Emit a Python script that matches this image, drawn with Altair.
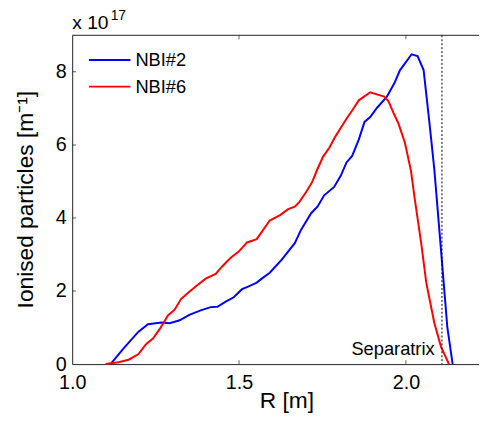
import altair as alt
import pandas as pd

# ---- data ----
series_names = ["NBI#2", "NBI#6"]
series_colors = ["#0000ff", "#ff0000"]

nbi2_R = [1.115, 1.154, 1.198, 1.227, 1.268, 1.292, 1.322, 1.351, 1.385, 1.415,
          1.435, 1.460, 1.484, 1.509, 1.529, 1.553, 1.568, 1.592, 1.628, 1.667,
          1.686, 1.716, 1.735, 1.755, 1.785, 1.805, 1.822, 1.839, 1.859, 1.876,
          1.893, 1.913, 1.943, 1.966, 1.982, 2.017, 2.035, 2.053, 2.071, 2.085,
          2.105, 2.124, 2.140]
nbi2_v = [0.00, 0.43, 0.88, 1.09, 1.14, 1.12, 1.20, 1.35, 1.47, 1.56,
          1.57, 1.71, 1.83, 2.05, 2.13, 2.23, 2.34, 2.50, 2.86, 3.31,
          3.68, 4.13, 4.31, 4.62, 4.85, 5.16, 5.52, 5.70, 6.15, 6.63,
          6.76, 7.01, 7.32, 7.70, 8.04, 8.48, 8.43, 8.05, 6.56, 5.34,
          3.14, 1.02, 0.00]

nbi6_R = [1.100, 1.139, 1.169, 1.198, 1.222, 1.242, 1.263, 1.287, 1.307, 1.326,
          1.351, 1.371, 1.400, 1.430, 1.450, 1.475, 1.499, 1.524, 1.553, 1.592,
          1.623, 1.647, 1.667, 1.681, 1.701, 1.719, 1.735, 1.752, 1.771, 1.788,
          1.820, 1.839, 1.859, 1.893, 1.935, 1.948, 1.963, 1.977, 1.997, 2.015,
          2.027, 2.046, 2.061, 2.085, 2.105, 2.129]
nbi6_v = [0.00, 0.05, 0.12, 0.27, 0.55, 0.70, 0.97, 1.33, 1.49, 1.78,
          1.98, 2.13, 2.34, 2.47, 2.68, 2.91, 3.08, 3.33, 3.42, 3.93,
          4.08, 4.24, 4.31, 4.44, 4.71, 4.98, 5.34, 5.68, 5.93, 6.22,
          6.69, 6.94, 7.22, 7.44, 7.32, 7.19, 6.87, 6.60, 6.06, 5.30,
          4.49, 3.30, 2.23, 1.13, 0.48, 0.00]

x_ticks = [1.0, 1.5, 2.0]
y_ticks = [0, 2, 4, 6, 8]
x_domain = [1.0, 2.219]
y_domain = [0, 9]
separatrix_R = 2.108
separatrix_label = "Separatrix"
scale_text = "x 10"
scale_exp = "17"

FONT = "Liberation Sans"

df = pd.concat([
    pd.DataFrame({"R": nbi2_R, "v": nbi2_v, "series": series_names[0]}),
    pd.DataFrame({"R": nbi6_R, "v": nbi6_v, "series": series_names[1]}),
])

xs = alt.Scale(domain=x_domain, nice=False, zero=False)
ys = alt.Scale(domain=y_domain, nice=False)

lines = alt.Chart(df).mark_line(strokeWidth=2).encode(
    x=alt.X("R:Q", scale=xs, axis=alt.Axis(
        values=x_ticks, format=".1f", title="R [m]", ticks=False, tickSize=0,
        labelPadding=9, labelFlush=False, titleX=217, titleY=44,
        titleBaseline="alphabetic", titleAnchor="start", titleAlign="center")),
    y=alt.Y("v:Q", scale=ys, axis=alt.Axis(
        values=y_ticks, format="d", title="Ionised particles [m⁻¹]", ticks=False,
        tickSize=0, labelPadding=6, labelFlush=False, titleX=-40, titleY=166,
        titleBaseline="alphabetic", titleAnchor="start", titleAlign="center",
        titleAngle=-90)),
    color=alt.Color("series:N", sort=series_names,
                    scale=alt.Scale(domain=series_names, range=series_colors),
                    legend=alt.Legend(orient="none", legendX=16, legendY=15, title=None,
                                      symbolType="stroke", symbolSize=1764,
                                      symbolStrokeWidth=2, labelFontSize=18.5,
                                      labelFont=FONT, labelColor="black",
                                      clipHeight=20, rowPadding=7, padding=0,
                                      labelOffset=4)),
)

# inward tick marks
xt = pd.DataFrame({"t": x_ticks[1:]})
yt = pd.DataFrame({"t": y_ticks[1:]})
tick_style = dict(color="#222", thickness=1, size=8, clip=True)
bottom_ticks = alt.Chart(xt).mark_tick(orient="vertical", **tick_style).encode(
    x=alt.X("t:Q", scale=xs), y=alt.datum(y_domain[0], scale=ys))
top_ticks = alt.Chart(xt).mark_tick(orient="vertical", **tick_style).encode(
    x=alt.X("t:Q", scale=xs), y=alt.datum(y_domain[1], scale=ys))
left_ticks = alt.Chart(yt).mark_tick(orient="horizontal", **tick_style).encode(
    y=alt.Y("t:Q", scale=ys), x=alt.datum(x_domain[0], scale=xs))

top_border = alt.Chart().mark_rule(color="#222", strokeWidth=1).encode(
    y=alt.datum(y_domain[1], scale=ys))

sep_rule = alt.Chart().mark_rule(color="black", strokeWidth=1, strokeDash=[2, 2]).encode(
    x=alt.datum(separatrix_R, scale=xs))

sep_text = alt.Chart(pd.DataFrame({"R": [2.086], "v": [0.25], "t": [separatrix_label]})).mark_text(
    align="right", baseline="alphabetic", fontSize=18.5, font=FONT, color="black"
).encode(x=alt.X("R:Q", scale=xs), y=alt.Y("v:Q", scale=ys), text="t:N")

exp_base = alt.Chart(pd.DataFrame({"t": [scale_text]})).mark_text(
    align="left", baseline="alphabetic", fontSize=19.5, font=FONT, color="black"
).encode(x=alt.value(0), y=alt.value(-6), text="t:N")
exp_sup = alt.Chart(pd.DataFrame({"t": [scale_exp]})).mark_text(
    align="left", baseline="alphabetic", fontSize=14, font=FONT, color="black"
).encode(x=alt.value(39), y=alt.value(-15), text="t:N")

chart = alt.layer(
    lines, bottom_ticks, top_ticks, left_ticks, top_border, sep_rule, sep_text,
    exp_base, exp_sup
).properties(
    width=412, height=333,
    background="white",
    autosize=alt.AutoSizeParams(type="none"),
    padding={"left": 65, "top": 25, "right": 0, "bottom": 56},
).configure_view(stroke=None).configure_axis(
    grid=False, domainColor="#222", domainWidth=1, labelFont=FONT, labelFontSize=20,
    labelColor="black", titleFont=FONT, titleFontSize=23, titleColor="black",
    titleFontWeight="normal",
)

chart.save("out.html", embed_options={"renderer": "svg", "actions": False})
